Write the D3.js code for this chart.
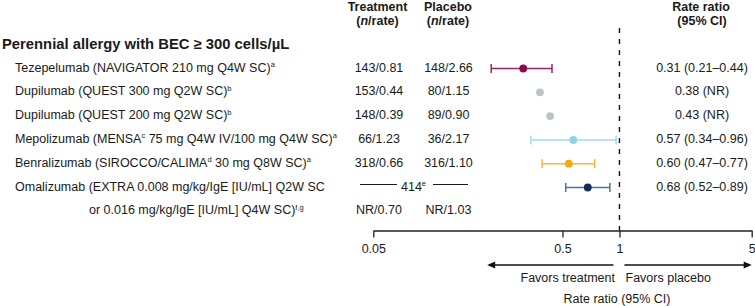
<!DOCTYPE html>
<html>
<head>
<meta charset="utf-8">
<script src="https://cdn.jsdelivr.net/npm/d3@7"></script>
<style>
  body { margin: 0; background: #fff; }
  svg { display: block; font-family: "Liberation Sans", Arial, sans-serif; }
  text { fill: #1a1a1a; }
</style>
</head>
<body>
<script>
// rows of the forest plot, {x} marks a superscript
const rowLabels = [
    "Tezepelumab (NAVIGATOR 210 mg Q4W SC){a}",
    "Dupilumab (QUEST 300 mg Q2W SC){b}",
    "Dupilumab (QUEST 200 mg Q2W SC){b}",
    "Mepolizumab (MENSA{c} 75 mg Q4W IV/100 mg Q4W SC){a}",
    "Benralizumab (SIROCCO/CALIMA{d} 30 mg Q8W SC){a}",
    "Omalizumab (EXTRA 0.008 mg/kg/IgE [IU/mL] Q2W SC"
];
const contLabel = "or 0.016 mg/kg/IgE [IU/mL] Q4W SC){f,g}";
const groupLabel = "Perennial allergy with BEC \u2265 300 cells/\u00b5L";

const treatment = ["143/0.81", "153/0.44", "148/0.39", "66/1.23", "318/0.66", "NR/0.70"];
const placebo   = ["148/2.66", "80/1.15", "89/0.90", "36/2.17", "316/1.10", "NR/1.03"];
const pooledN = "414{e}";
const rrText = ["0.31 (0.21\u20130.44)", "0.38 (NR)", "0.43 (NR)", "0.57 (0.34\u20130.96)",
                "0.60 (0.47\u20130.77)", "0.68 (0.52\u20130.89)"];

// positions of the marks as drawn in the figure
const rr     = [0.31, 0.38, 0.43, 0.57, 0.54, 0.68];
const ciLow  = [0.21, null, null, 0.34, 0.39, 0.52];
const ciHigh = [0.44, null, null, 0.96, 0.74, 0.89];

const tickValues = [0.05, 0.5, 1, 5];

const dotColors  = ["#8a0c4e", "#b7c6c2", "#b7c6c2", "#8fd2e6", "#f5ab12", "#0b2d56"];
const lineColors = ["#9c2462", "#b7c6c2", "#b7c6c2", "#a3dbea", "#f6b936", "#4d7298"];

const W = 755, H = 306;
const svg = d3.select("body").append("svg")
    .attr("width", W)
    .attr("height", H);

const x = d3.scaleLog().domain([0.05, 5]).range([373.3, 751.7]);
const y = d3.scalePoint().domain(d3.range(7)).range([68.5, 211.3]);

const fs = 12.5;

function richText(sel, str) {
    const parts = str.split(/(\{[^}]*\})/).filter(s => s.length);
    let sup = false;
    parts.forEach(p => {
        if (p[0] === "{") {
            sel.append("tspan")
                .attr("font-size", 7.5)
                .attr("dy", -4.5)
                .text(p.slice(1, -1));
            sup = true;
        } else {
            const t = sel.append("tspan").text(p);
            if (sup) { t.attr("dy", 4.5); sup = false; }
        }
    });
}

// headers
const hdr = svg.append("g").attr("font-weight", "bold").attr("font-size", fs)
    .attr("text-anchor", "middle");
hdr.append("text").attr("x", 377.5).attr("y", 10.5).text("Treatment");
hdr.append("text").attr("x", 448).attr("y", 10.5).text("Placebo");
hdr.append("text").attr("x", 701).attr("y", 10.5).text("Rate ratio");
[377.5, 448].forEach(cx => {
    const t = hdr.append("text").attr("x", cx).attr("y", 24.5);
    t.append("tspan").text("(");
    t.append("tspan").attr("font-style", "italic").text("n");
    t.append("tspan").text("/rate)");
});
hdr.append("text").attr("x", 702).attr("y", 24.5).text("(95% CI)");

svg.append("text")
    .attr("x", 2).attr("y", 48.5)
    .attr("font-size", 14.8).attr("font-weight", "bold")
    .text(groupLabel);

// row labels
const labelsG = svg.append("g").attr("font-size", fs);
rowLabels.forEach((l, i) => {
    richText(labelsG.append("text").attr("x", 15).attr("y", y(i) + 3), l);
});
richText(labelsG.append("text").attr("x", 89).attr("y", y(6) + 3), contLabel);

// table columns
const colG = svg.append("g").attr("font-size", fs).attr("text-anchor", "middle");
treatment.forEach((t, i) => {
    const row = i === 5 ? 6 : i;
    colG.append("text").attr("x", 379).attr("y", y(row) + 3).text(t);
});
placebo.forEach((t, i) => {
    const row = i === 5 ? 6 : i;
    colG.append("text").attr("x", 448.5).attr("y", y(row) + 3).text(t);
});
rrText.forEach((t, i) => {
    colG.append("text").attr("x", 702).attr("y", y(i) + 3).text(t);
});

// pooled n for Omalizumab
richText(svg.append("text").attr("font-size", fs)
    .attr("x", 401).attr("y", y(5) + 3), pooledN);
[[360, 397], [433, 468]].forEach(([a, b]) => {
    svg.append("line")
        .attr("x1", a).attr("x2", b)
        .attr("y1", y(5) - 3).attr("y2", y(5) - 3)
        .attr("stroke", "#1a1a1a").attr("stroke-width", 1);
});

// reference line at 1
svg.append("line")
    .attr("x1", x(1)).attr("x2", x(1))
    .attr("y1", 28).attr("y2", 230.5)
    .attr("stroke", "#111").attr("stroke-width", 1.4)
    .attr("stroke-dasharray", "5,6");

// CIs and estimates
const marks = svg.append("g");
rr.forEach((v, i) => {
    const cy = y(i);
    if (ciLow[i] != null) {
        marks.append("line")
            .attr("x1", x(ciLow[i])).attr("x2", x(ciHigh[i]))
            .attr("y1", cy).attr("y2", cy)
            .attr("stroke", lineColors[i]).attr("stroke-width", 1.5);
        [ciLow[i], ciHigh[i]].forEach(c => {
            marks.append("line")
                .attr("x1", x(c)).attr("x2", x(c))
                .attr("y1", cy - 4.5).attr("y2", cy + 4.5)
                .attr("stroke", lineColors[i]).attr("stroke-width", 1.5);
        });
    }
    marks.append("circle")
        .attr("cx", x(v)).attr("cy", cy).attr("r", 3.9)
        .attr("fill", dotColors[i]);
});

// axis
const axisG = svg.append("g")
    .attr("transform", "translate(0,230.5)")
    .call(d3.axisBottom(x)
        .tickValues(tickValues)
        .tickFormat(d => String(d))
        .tickSize(7)
        .tickSizeOuter(0)
        .tickPadding(7));
axisG.select(".domain").attr("stroke", "#222").attr("stroke-width", 1.3);
axisG.selectAll(".tick line").attr("stroke", "#222").attr("stroke-width", 1.3);
axisG.selectAll(".tick text")
    .attr("font-size", fs)
    .attr("font-family", "Liberation Sans, Arial, sans-serif")
    .attr("fill", "#1a1a1a");

// direction arrows
const ay = 265;
function arrow(x1, x2) {
    const dir = x2 > x1 ? 1 : -1;
    svg.append("line")
        .attr("x1", x1).attr("x2", x2 - dir * 6)
        .attr("y1", ay).attr("y2", ay)
        .attr("stroke", "#111").attr("stroke-width", 1.3);
    svg.append("path")
        .attr("d", `M${x2},${ay} L${x2 - dir * 8},${ay - 3.5} L${x2 - dir * 8},${ay + 3.5} Z`)
        .attr("fill", "#111");
}
arrow(x(1) - 6, x(0.2));
arrow(x(1) + 5, x(5));

svg.append("text")
    .attr("x", 615).attr("y", 281.5)
    .attr("font-size", fs).attr("text-anchor", "end")
    .text("Favors treatment");
svg.append("text")
    .attr("x", 625.5).attr("y", 281.5)
    .attr("font-size", fs)
    .text("Favors placebo");
svg.append("text")
    .attr("x", 617).attr("y", 303)
    .attr("font-size", fs).attr("text-anchor", "middle")
    .text("Rate ratio (95% CI)");
</script>
</body>
</html>
